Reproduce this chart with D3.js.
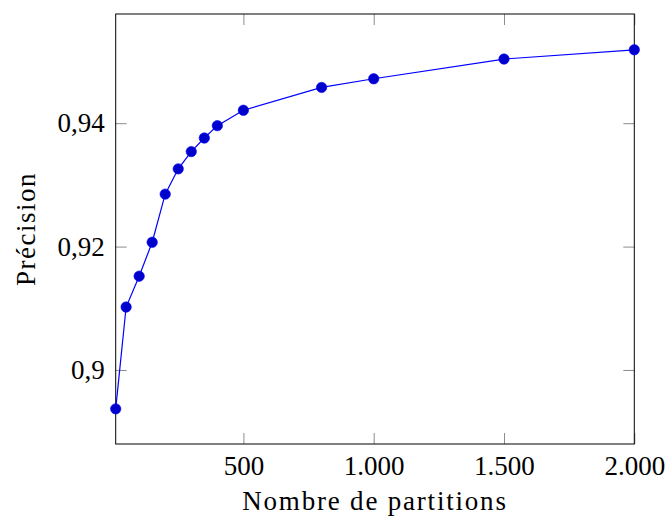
<!DOCTYPE html>
<html>
<head>
<meta charset="utf-8">
<script src="https://cdn.jsdelivr.net/npm/d3@7"></script>
<style>
  html, body { margin: 0; padding: 0; background: #fff; }
  svg { display: block; }
</style>
</head>
<body>
<svg id="chart" width="669" height="520"></svg>
<script>
// Data
const partitions = [10, 50, 100, 150, 200, 250, 300, 350, 400, 500, 800, 1000, 1500, 2000];
const precision  = [0.8937, 0.9102, 0.9152, 0.9207, 0.9285, 0.9326, 0.9354, 0.9376, 0.9396, 0.9421, 0.9458, 0.9472, 0.9504, 0.9519];
const xTicks = [500, 1000, 1500, 2000];
const yTicks = [0.90, 0.92, 0.94];
const xTitle = "Nombre de partitions";
const yTitle = "Précision";

const FONT = '"Times New Roman", "Noto Serif", serif';

const svg = d3.select("#chart");
const pLeft = 115.7, pRight = 634.3, pTop = 14, pBottom = 444;

const x = d3.scaleLinear().domain([10, 2000]).range([pLeft, pRight]);
const y = d3.scaleLinear().domain([0.888, 0.9577]).range([pBottom, pTop]);

const fmtX = v => d3.format(",")(v).replace(/,/g, ".");
const fmtY = v => String(+v.toFixed(2)).replace(".", ",");

const tickLen = 11;
const fontSize = 27;

// Bottom axis
const gx = svg.append("g").attr("transform", `translate(0,${pBottom})`)
  .call(d3.axisBottom(x).tickValues(xTicks).tickFormat(fmtX)
        .tickSizeInner(-tickLen).tickSizeOuter(0).tickPadding(12));
// Top axis (mirror ticks)
const gxt = svg.append("g").attr("transform", `translate(0,${pTop})`)
  .call(d3.axisTop(x).tickValues(xTicks).tickFormat("")
        .tickSizeInner(-tickLen).tickSizeOuter(0));
// Left axis
const gy = svg.append("g").attr("transform", `translate(${pLeft},0)`)
  .call(d3.axisLeft(y).tickValues(yTicks).tickFormat(fmtY)
        .tickSizeInner(-tickLen).tickSizeOuter(0).tickPadding(11));
// Right axis (mirror ticks)
const gyr = svg.append("g").attr("transform", `translate(${pRight},0)`)
  .call(d3.axisRight(y).tickValues(yTicks).tickFormat("")
        .tickSizeInner(-tickLen).tickSizeOuter(0));

[gx, gxt, gy, gyr].forEach(g => {
  g.attr("font-family", null).attr("font-size", null);
  g.select(".domain").remove();
  g.selectAll(".tick line").attr("stroke", "#8c8c8c").attr("stroke-width", 1);
  g.selectAll(".tick text")
    .attr("font-size", fontSize)
    .style("font-family", FONT)
    .attr("fill", "#000");
});

// Frame
svg.append("rect")
  .attr("x", pLeft).attr("y", pTop)
  .attr("width", pRight - pLeft).attr("height", pBottom - pTop)
  .attr("fill", "none").attr("stroke", "#000").attr("stroke-width", 1);

// Line
const pts = partitions.map((p, i) => [p, precision[i]]);
svg.append("path")
  .datum(pts)
  .attr("fill", "none")
  .attr("stroke", "#0000ff")
  .attr("stroke-width", 1.2)
  .attr("d", d3.line().x(d => x(d[0])).y(d => y(d[1])));

// Markers
svg.append("g").selectAll("circle")
  .data(pts).join("circle")
  .attr("cx", d => x(d[0]))
  .attr("cy", d => y(d[1]))
  .attr("r", 5.2)
  .attr("fill", "#0000cc")
  .attr("stroke", "#0000ff")
  .attr("stroke-width", 0.6);

// Axis titles
svg.append("text")
  .attr("x", (pLeft + pRight) / 2)
  .attr("y", 510)
  .attr("text-anchor", "middle")
  .attr("font-size", fontSize)
  .style("font-family", FONT)
  .style("letter-spacing", "1.8px")
  .text(xTitle);

svg.append("text")
  .attr("transform", `translate(35,${(pTop + pBottom) / 2}) rotate(-90)`)
  .attr("text-anchor", "middle")
  .attr("font-size", fontSize)
  .style("font-family", FONT)
  .style("letter-spacing", "1.5px")
  .text(yTitle);
</script>
</body>
</html>
